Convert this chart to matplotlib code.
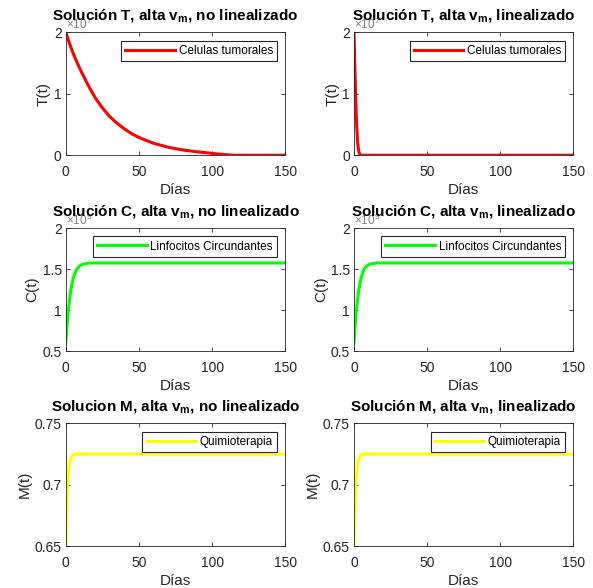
import matplotlib
matplotlib.use("Agg")
import matplotlib.pyplot as plt

# -------------------------------------------------------------------
# Data (T in 1e7, C in 1e9)
# -------------------------------------------------------------------
t_T_nl = [0, 2.5, 5, 7.5, 10, 15, 20, 25, 30, 35, 40, 45, 50, 55, 60, 70, 80, 90,
          100, 105, 110, 115, 150]
T_nl = [2.0, 1.82, 1.66, 1.52, 1.39, 1.15, 0.94, 0.77, 0.63, 0.52, 0.43, 0.35, 0.29,
        0.24, 0.195, 0.13, 0.085, 0.055, 0.03, 0.018, 0.008, 0.0, 0.0]

t_T_l = [0, 0.5, 1, 1.5, 2, 2.5, 3, 3.5, 4, 5, 150]
T_l = [2.0, 1.5, 1.05, 0.68, 0.40, 0.21, 0.10, 0.04, 0.015, 0.0, 0.0]

t_C = [0, 0.5, 1, 1.5, 2, 3, 4, 5, 6, 7, 8, 10, 12, 14, 16, 20, 150]
C_nl = [0.6, 0.73, 0.85, 0.95, 1.04, 1.19, 1.30, 1.38, 1.44, 1.48, 1.51, 1.545, 1.562,
        1.570, 1.574, 1.575, 1.575]
C_l = [0.6, 0.74, 0.86, 0.97, 1.06, 1.21, 1.32, 1.40, 1.46, 1.50, 1.525, 1.553, 1.566,
       1.572, 1.575, 1.575, 1.575]

t_M = [0, 0.5, 1, 1.5, 2, 3, 4, 5, 7, 150]
M_nl = [0.65, 0.675, 0.695, 0.706, 0.713, 0.720, 0.723, 0.7245, 0.725, 0.725]
M_l = [0.65, 0.675, 0.695, 0.706, 0.713, 0.720, 0.723, 0.7245, 0.725, 0.725]

plt.rcParams["font.family"] = ["Liberation Sans", "DejaVu Sans"]
plt.rcParams["mathtext.fontset"] = "custom"
plt.rcParams["mathtext.rm"] = "Liberation Sans"
plt.rcParams["mathtext.bf"] = "Liberation Sans:bold"
plt.rcParams["mathtext.it"] = "Liberation Sans:italic"

GRAY = "#262626"

panels = [
    # (t, values, color, legend, ylabel, ylim, yticks, yticklabels, exponent, title)
    (t_T_nl, T_nl, "#ff0000", "Celulas tumorales", "T(t)", (0, 2), [0, 1, 2], ["0", "1", "2"], "7",
     r"Solución T, alta $\mathbf{v_m}$, no linealizado"),
    (t_T_l, T_l, "#ff0000", "Celulas tumorales", "T(t)", (0, 2), [0, 1, 2], ["0", "1", "2"], "7",
     r"Solución T, alta $\mathbf{v_m}$, linealizado"),
    (t_C, C_nl, "#00ff00", "Linfocitos Circundantes", "C(t)", (0.5, 2), [0.5, 1, 1.5, 2],
     ["0.5", "1", "1.5", "2"], "9", r"Solución C, alta $\mathbf{v_m}$, no linealizado"),
    (t_C, C_l, "#00ff00", "Linfocitos Circundantes", "C(t)", (0.5, 2), [0.5, 1, 1.5, 2],
     ["0.5", "1", "1.5", "2"], "9", r"Solución C, alta $\mathbf{v_m}$, linealizado"),
    (t_M, M_nl, "#ffff00", "Quimioterapia", "M(t)", (0.65, 0.75), [0.65, 0.7, 0.75],
     ["0.65", "0.7", "0.75"], None, r"Solucion M, alta $\mathbf{v_m}$, no linealizado"),
    (t_M, M_l, "#ffff00", "Quimioterapia", "M(t)", (0.65, 0.75), [0.65, 0.7, 0.75],
     ["0.65", "0.7", "0.75"], None, r"Solución M, alta $\mathbf{v_m}$, linealizado"),
]

lefts = [0.111, 0.597]
bottoms = [0.736, 0.403, 0.071]
w, h = 0.370, 0.209

fig = plt.figure(figsize=(5.93, 5.88), dpi=100)

for i, (t, vals, color, leg, ylab, ylim, yt, ytl, expo, title) in enumerate(panels):
    ax = fig.add_axes([lefts[i % 2], bottoms[i // 2], w, h])
    ax.plot(t, vals, color=color, lw=2.2, label=leg, solid_joinstyle="round")
    ax.set_xlim(0, 150)
    ax.set_ylim(*ylim)
    ax.set_xticks([0, 50, 100, 150])
    ax.set_xticklabels(["0", "50", "100", "150"])
    ax.set_yticks(yt)
    ax.set_yticklabels(ytl)
    ax.tick_params(direction="in", top=True, right=True, length=3, width=0.6,
                   labelsize=10, colors=GRAY)
    ax.tick_params(axis="x", pad=7)
    ax.tick_params(axis="y", pad=3)
    for s in ax.spines.values():
        s.set_color(GRAY)
        s.set_linewidth(0.6)
    ax.set_xlabel("Días", fontsize=11, color=GRAY, labelpad=3)
    ax.set_ylabel(ylab, fontsize=11, color=GRAY, labelpad=2)
    if expo:
        ax.text(0.0, 1.005, r"$\times10^{%s}$" % expo, transform=ax.transAxes,
                fontsize=8.5, color="#808080", ha="left", va="bottom", zorder=1)
    ax.set_title(title, fontsize=11, fontweight="bold", color="black", pad=9)
    lg = ax.legend(loc="upper right", fontsize=8.5, fancybox=False, framealpha=1,
                   edgecolor=GRAY, handlelength=4.2, borderaxespad=0.7,
                   borderpad=0.35, handletextpad=0.3)
    lg.get_frame().set_linewidth(0.8)

fig.savefig("out.png", dpi=100)
